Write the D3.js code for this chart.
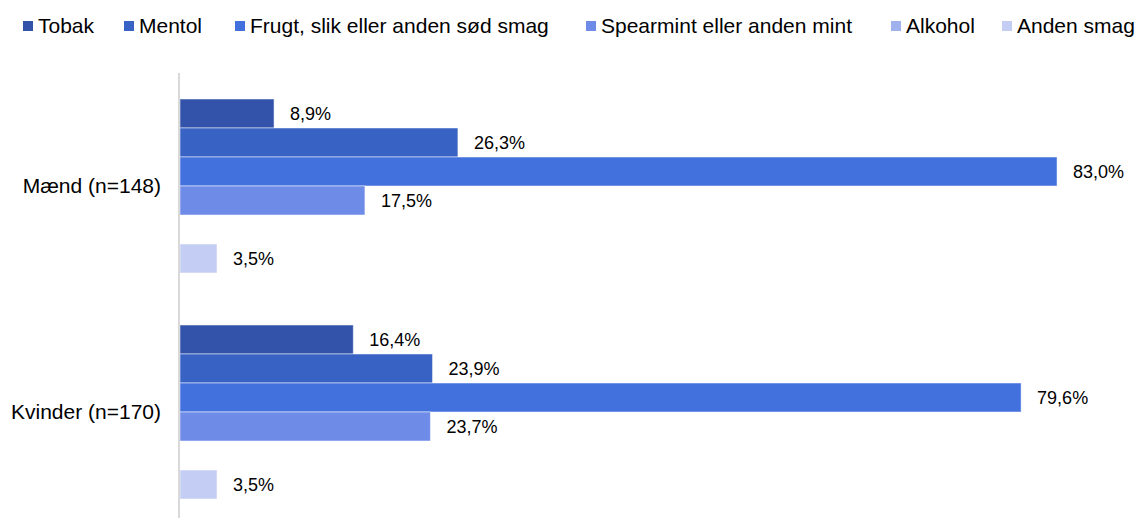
<!DOCTYPE html>
<html>
<head>
<meta charset="utf-8">
<script src="https://cdn.jsdelivr.net/npm/d3@7"></script>
<style>
  body { margin: 0; background: #ffffff; }
  svg text { font-family: "Liberation Sans", Arial, sans-serif; fill: #000000; }
</style>
</head>
<body>
<div id="chart"></div>
<script>
// Data
const categories = ["Mænd (n=148)", "Kvinder (n=170)"];
const series = ["Tobak", "Mentol", "Frugt, slik eller anden sød smag", "Spearmint eller anden mint", "Alkohol", "Anden smag"];
const tobak     = [8.9, 16.4];
const mentol    = [26.3, 23.9];
const frugt     = [83.0, 79.6];
const spearmint = [17.5, 23.7];
const alkohol   = [null, null];
const anden     = [3.5, 3.5];
const seriesValues = [tobak, mentol, frugt, spearmint, alkohol, anden];
const colors = ["#3253a9", "#3862c4", "#4270dc", "#6e8be8", "#a0b2ee", "#c4cef4"];

// Layout
const width = 1136, height = 518;
const legendX = [23, 124, 235, 586, 891, 1002];

const svg = d3.select("#chart").append("svg")
    .attr("width", width)
    .attr("height", height);

// Scales
const x = d3.scaleLinear().domain([0, 90]).range([180, 1131]);
const y = d3.scaleBand().domain(categories).range([73, 525])
    .paddingInner(0.23).paddingOuter(0.115);
const ySub = d3.scaleBand().domain(series).range([0, y.bandwidth()]);

// Rows: one per category x series
const rows = [];
categories.forEach((c, ci) => {
    series.forEach((s, si) => {
        rows.push({ cat: c, ser: s, si: si, value: seriesValues[si][ci] });
    });
});
const drawn = rows.filter(d => d.value !== null);

// Bars
svg.append("g").selectAll("rect")
    .data(drawn)
    .enter().append("rect")
    .attr("x", x(0))
    .attr("y", d => y(d.cat) + ySub(d.ser))
    .attr("width", d => x(d.value) - x(0))
    .attr("height", ySub.bandwidth())
    .attr("fill", d => colors[d.si])
    .attr("stroke", "#ffffff")
    .attr("stroke-opacity", 0.5)
    .attr("stroke-width", 1);

// Value labels
svg.append("g").selectAll("text")
    .data(drawn)
    .enter().append("text")
    .attr("x", d => x(d.value) + 16)
    .attr("y", d => y(d.cat) + ySub(d.ser) + ySub.bandwidth() / 2)
    .attr("dy", "0.35em")
    .attr("font-size", 18)
    .text(d => d3.format(".1f")(d.value).replace(".", ",") + "%");

// Vertical axis line
svg.append("line")
    .attr("x1", 179).attr("x2", 179)
    .attr("y1", 73).attr("y2", height)
    .attr("stroke", "#d9d9d9")
    .attr("stroke-width", 2);

// Category labels
svg.append("g").selectAll("text")
    .data(categories)
    .enter().append("text")
    .attr("x", 161)
    .attr("y", d => y(d) + y.bandwidth() / 2)
    .attr("dy", "0.35em")
    .attr("text-anchor", "end")
    .attr("font-size", 21)
    .text(d => d);

// Legend
const legend = svg.append("g").selectAll("g")
    .data(series)
    .enter().append("g")
    .attr("transform", (d, i) => `translate(${legendX[i]},26)`);
legend.append("rect")
    .attr("x", 0).attr("y", -5)
    .attr("width", 10).attr("height", 10)
    .attr("fill", (d, i) => colors[i]);
legend.append("text")
    .attr("x", 15)
    .attr("dy", "0.35em")
    .attr("font-size", 21)
    .text(d => d);
</script>
</body>
</html>
